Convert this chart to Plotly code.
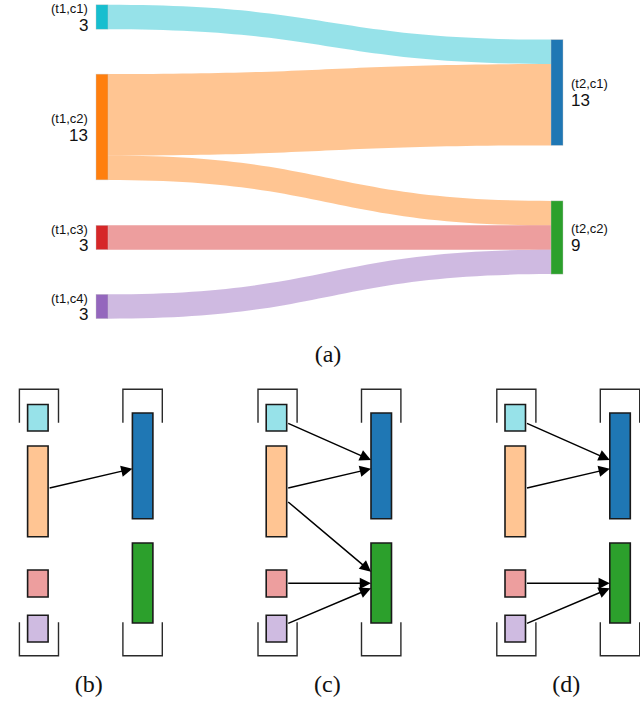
import plotly.graph_objects as go

# ---------------- data ----------------
left_labels = ["(t1,c1)", "(t1,c2)", "(t1,c3)", "(t1,c4)"]
right_labels = ["(t2,c1)", "(t2,c2)"]
left_values = [3, 13, 3, 3]
right_values = [13, 9]
link_source = [0, 1, 1, 2, 3]      # index into left nodes
link_target = [0, 0, 1, 1, 1]      # index into right nodes
link_value = [3, 10, 3, 3, 3]
caption_a = "(a)"
panel_names = ["(b)", "(c)", "(d)"]
panel_links = [[1], [0, 1, 2, 3, 4], [0, 1, 3, 4]]   # links drawn in each panel

# ---------------- style / geometry ----------------
left_colors = ["#17becf", "#ff7f0e", "#d62728", "#9467bd"]
right_colors = ["#1f77b4", "#2ca02c"]


def light(hexc, a=0.45):
    r, g, b = int(hexc[1:3], 16), int(hexc[3:5], 16), int(hexc[5:7], 16)
    f = lambda c: round(255 - a * (255 - c))
    return f"rgb({f(r)},{f(g)},{f(b)})"


def rgba(hexc, a):
    r, g, b = int(hexc[1:3], 16), int(hexc[3:5], 16), int(hexc[5:7], 16)
    return f"rgba({r},{g},{b},{a})"


W, H = 640, 728
SK_L, SK_R, SK_T, SK_B = 96, 563, 5, 319
dom_w, dom_h = SK_R - SK_L, SK_B - SK_T
NODE_T = 12
left_center_px = [17, 127, 237.5, 306.5]
right_center_px = [92.5, 237.5]

n_left = len(left_labels)
node_x = [(NODE_T / 2) / dom_w] * n_left + [1 - (NODE_T / 2) / dom_w] * len(right_labels)
node_y = [(c - SK_T) / dom_h for c in left_center_px + right_center_px]

fig = go.Figure()

fig.add_trace(go.Sankey(
    arrangement="fixed",
    domain=dict(x=[SK_L / W, SK_R / W], y=[1 - SK_B / H, 1 - SK_T / H]),
    node=dict(
        label=[""] * (n_left + len(right_labels)),
        x=node_x, y=node_y,
        pad=45, thickness=NODE_T,
        color=left_colors + right_colors,
        line=dict(color="rgba(200,200,200,0.8)", width=0.5),
    ),
    link=dict(
        source=link_source,
        target=[t + n_left for t in link_target],
        value=link_value,
        color=[rgba(left_colors[s], 0.45) for s in link_source],
        line=dict(width=0),
    ),
))

annotations = []
LBL_FONT = dict(family="Liberation Sans, Arial", size=13, color="#111")
NUM_FONT = dict(family="Liberation Sans, Arial", size=17, color="#111")
for lab, val, cy in zip(left_labels, left_values, left_center_px):
    annotations.append(dict(x=89.5, y=cy - 8.5, xref="x", yref="y", text=lab, showarrow=False,
                            xanchor="right", yanchor="middle", font=LBL_FONT))
    annotations.append(dict(x=90, y=cy + 8, xref="x", yref="y", text=str(val), showarrow=False,
                            xanchor="right", yanchor="middle", font=NUM_FONT))
for lab, val, cy in zip(right_labels, right_values, right_center_px):
    annotations.append(dict(x=568.5, y=cy - 9, xref="x", yref="y", text=lab, showarrow=False,
                            xanchor="left", yanchor="middle", font=LBL_FONT))
    annotations.append(dict(x=568.5, y=cy + 7.5, xref="x", yref="y", text=str(val), showarrow=False,
                            xanchor="left", yanchor="middle", font=NUM_FONT))

# ---------------- schematic panels (b)-(d) ----------------
panel_x0 = [27.6, 266.2, 505.0]
LBOX_W = 20.5
left_box_y = [(404.5, 431), (446, 536.7), (570, 597), (615.3, 642)]
RBOX_X = 104.8
RBOX_W = 20.5
right_box_y = [(413, 518.7), (543, 623)]
link_start_y = [422.7, 488.3, 500.7, 583.3, 624]
link_end_y = [460, 468.7, 571.7, 583.3, 588.3]
BR_TOP, BR_TOP_END, BR_BOT_START, BR_BOT = 389.3, 422.7, 622.3, 655.7
L_BR = (-8.2, 30.9)
R_BR = (95.3, 134.7)

shapes = []
BOX_LINE = dict(color="#1a1a1a", width=1.6)
BR_LINE = dict(color="#2a2a2a", width=1.4)
for p, x0 in enumerate(panel_x0):
    for i, (y0, y1) in enumerate(left_box_y):
        shapes.append(dict(type="rect", xref="x", yref="y", x0=x0, x1=x0 + LBOX_W, y0=y0, y1=y1,
                           fillcolor=light(left_colors[i]), line=BOX_LINE))
    for j, (y0, y1) in enumerate(right_box_y):
        shapes.append(dict(type="rect", xref="x", yref="y", x0=x0 + RBOX_X, x1=x0 + RBOX_X + RBOX_W,
                           y0=y0, y1=y1, fillcolor=right_colors[j], line=BOX_LINE))
    for a, b in (L_BR, R_BR):
        xa, xb = x0 + a, x0 + b
        shapes.append(dict(type="path", xref="x", yref="y", line=BR_LINE,
                           path=f"M{xa},{BR_TOP_END} L{xa},{BR_TOP} L{xb},{BR_TOP} L{xb},{BR_TOP_END}"))
        shapes.append(dict(type="path", xref="x", yref="y", line=BR_LINE,
                           path=f"M{xa},{BR_BOT_START} L{xa},{BR_BOT} L{xb},{BR_BOT} L{xb},{BR_BOT_START}"))
    for k in panel_links[p]:
        annotations.append(dict(
            x=x0 + RBOX_X, y=link_end_y[k], ax=x0 + LBOX_W, ay=link_start_y[k],
            xref="x", yref="y", axref="x", ayref="y", text="", showarrow=True,
            arrowhead=2, arrowsize=1.5, arrowwidth=1.5, arrowcolor="#000", standoff=0,
        ))

# captions
fig.add_trace(go.Scatter(
    x=[328] + [x0 + 61.2 for x0 in panel_x0],
    y=[355.5] + [686] * len(panel_names),
    text=[caption_a] + panel_names,
    mode="text",
    textfont=dict(family="Liberation Serif, Times New Roman, serif", size=24, color="#111"),
    hoverinfo="skip", showlegend=False,
))

fig.update_layout(
    width=W, height=H,
    margin=dict(l=0, r=0, t=0, b=0),
    paper_bgcolor="white", plot_bgcolor="rgba(0,0,0,0)",
    showlegend=False,
    xaxis=dict(range=[0, W], visible=False, fixedrange=True, domain=[0, 1]),
    yaxis=dict(range=[H, 0], autorange=False, visible=False, fixedrange=True, domain=[0, 1]),
    shapes=shapes,
    annotations=annotations,
)

fig.write_html("out.html", config={"displayModeBar": False},
               post_script="document.body.style.margin='0';document.body.style.overflow='hidden';")
